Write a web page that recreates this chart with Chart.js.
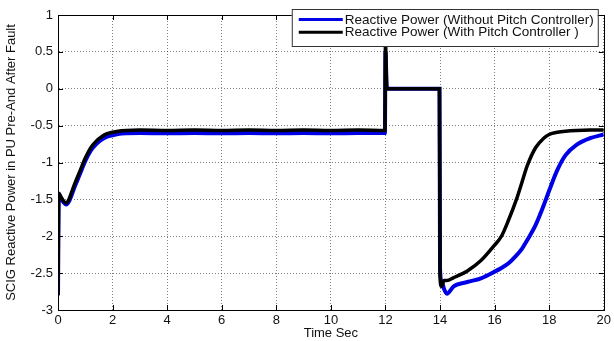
<!DOCTYPE html>
<html>
<head>
<meta charset="utf-8">
<script src="https://cdn.jsdelivr.net/npm/chart.js@4"></script>
<style>
    html, body { margin: 0; padding: 0; background: #fff; }
    canvas { display: block; }
</style>
</head>
<body>
<canvas id="reactiveChart" width="614" height="341"></canvas>
<script>
// Simulation samples (seconds) and reactive power in PU for both runs
const timeSec = [
    0, 0.03, 0.1, 0.2, 0.3, 0.4, 0.5, 0.6, 0.8, 1.0,
    1.2, 1.4, 1.6, 1.8, 2.0, 2.2, 2.5, 3, 4, 5,
    6, 7, 8, 9, 10, 11, 11.98, 12.0, 12.05, 13,
    13.98, 14.0, 14.05, 14.15, 14.25, 14.5, 15, 15.5, 16, 16.25,
    16.5, 16.8, 17.0, 17.2, 17.5, 17.8, 18.0, 18.3, 18.6, 19.0,
    19.5, 20
];
const withoutPitch = [
    -2.8, -1.42, -1.48, -1.54, -1.57, -1.53, -1.44, -1.34, -1.16, -0.98,
    -0.84, -0.75, -0.69, -0.65, -0.63, -0.615, -0.605, -0.6, -0.605, -0.6,
    -0.605, -0.6, -0.605, -0.6, -0.605, -0.6, -0.6, 0.5, 0.0, 0.0,
    0.0, -2.45, -2.6, -2.72, -2.78, -2.68, -2.62, -2.57, -2.48, -2.43,
    -2.37, -2.26, -2.17, -2.05, -1.85, -1.58, -1.38, -1.1, -0.9, -0.76,
    -0.67, -0.62
];
const withPitch = [
    -2.8, -1.42, -1.46, -1.52, -1.55, -1.5, -1.4, -1.3, -1.12, -0.94,
    -0.8, -0.71, -0.65, -0.61, -0.59, -0.575, -0.565, -0.56, -0.565, -0.56,
    -0.565, -0.56, -0.565, -0.56, -0.565, -0.56, -0.565, 0.62, 0.0, 0.0,
    0.0, -2.55, -2.68, -2.6, -2.6, -2.56, -2.47, -2.33, -2.12, -2.0,
    -1.79, -1.5, -1.27, -1.04, -0.8, -0.67, -0.62, -0.59, -0.575, -0.565,
    -0.56, -0.56
];
const seriesLabels = [
    'Reactive Power (Without Pitch Controller)',
    'Reactive Power (With Pitch Controller )'
];
const xTicks = [0, 2, 4, 6, 8, 10, 12, 14, 16, 18, 20];
const yTicks = [-3, -2.5, -2, -1.5, -1, -0.5, 0, 0.5, 1];

const FONT = 'Liberation Sans, Arial, Helvetica, sans-serif';

const toPoints = (values) => timeSec.map((t, i) => ({ x: t, y: values[i] }));

// Box around the axes with inward tick marks, like a MATLAB figure
const axesFrame = {
    id: 'axesFrame',
    afterDatasetsDraw: (chart) => {
        const { ctx, chartArea: a, scales: { x, y } } = chart;
        const len = 5;
        ctx.save();
        ctx.strokeStyle = '#000';
        ctx.lineWidth = 1;
        ctx.beginPath();
        x.ticks.forEach(t => {
            const px = Math.round(x.getPixelForValue(t.value)) + 0.5;
            ctx.moveTo(px, a.bottom); ctx.lineTo(px, a.bottom - len);
            ctx.moveTo(px, a.top); ctx.lineTo(px, a.top + len);
        });
        y.ticks.forEach(t => {
            const py = Math.round(y.getPixelForValue(t.value)) + 0.5;
            ctx.moveTo(a.left, py); ctx.lineTo(a.left + len, py);
            ctx.moveTo(a.right, py); ctx.lineTo(a.right - len, py);
        });
        ctx.stroke();
        ctx.strokeRect(Math.round(a.left) + 0.5, Math.round(a.top) + 0.5,
            Math.round(a.right - a.left), Math.round(a.bottom - a.top));
        ctx.restore();
    }
};

// Legend box sitting over the top-right corner of the plot
const insetLegend = {
    id: 'insetLegend',
    afterDraw: (chart) => {
        const { ctx, chartArea: a } = chart;
        const box = { left: a.right - 312, top: a.top - 6, width: 306, height: 37 };
        ctx.save();
        ctx.fillStyle = '#fff';
        ctx.fillRect(box.left, box.top, box.width, box.height);
        ctx.strokeStyle = '#333';
        ctx.lineWidth = 1;
        ctx.strokeRect(box.left + 0.5, box.top + 0.5, box.width, box.height);
        ctx.font = '13.5px ' + FONT;
        ctx.textBaseline = 'middle';
        ctx.textAlign = 'left';
        chart.data.datasets.forEach((ds, i) => {
            const rowY = box.top + 10.5 + i * 12.7;
            ctx.strokeStyle = ds.borderColor;
            ctx.lineWidth = 3;
            ctx.beginPath();
            ctx.moveTo(box.left + 7, rowY);
            ctx.lineTo(box.left + 51, rowY);
            ctx.stroke();
            ctx.fillStyle = '#111';
            ctx.fillText(ds.label, box.left + 53, rowY + 0.5);
        });
        ctx.restore();
    }
};

new Chart(document.getElementById('reactiveChart'), {
    type: 'line',
    data: {
        datasets: [
            {
                label: seriesLabels[0],
                data: toPoints(withoutPitch),
                borderColor: '#0000e6',
                borderWidth: 4,
                order: 2
            },
            {
                label: seriesLabels[1],
                data: toPoints(withPitch),
                borderColor: '#000000',
                borderWidth: 3.5,
                order: 1
            }
        ]
    },
    options: {
        responsive: false,
        animation: false,
        layout: { padding: { top: 15, right: 6, left: 0, bottom: 0 } },
        elements: {
            point: { radius: 0 },
            line: { cubicInterpolationMode: 'monotone' }
        },
        plugins: {
            legend: { display: false },
            tooltip: { enabled: false }
        },
        scales: {
            x: {
                type: 'linear',
                min: 0,
                max: 20,
                afterBuildTicks: (scale) => { scale.ticks = xTicks.map(v => ({ value: v })); },
                afterFit: (scale) => { scale.height = 31; },
                grid: { color: 'rgba(0,0,0,0.5)', lineWidth: 1, drawTicks: false },
                border: { display: true, color: '#000', dash: [1, 2] },
                ticks: {
                    padding: 3,
                    color: '#111',
                    font: { family: FONT, size: 13 },
                    maxRotation: 0,
                    callback: (v) => String(v)
                },
                title: {
                    display: true,
                    text: 'Time Sec',
                    color: '#111',
                    font: { family: FONT, size: 13 },
                    padding: { top: 0, bottom: 0 }
                }
            },
            y: {
                type: 'linear',
                min: -3,
                max: 1,
                afterBuildTicks: (scale) => { scale.ticks = yTicks.map(v => ({ value: v })); },
                afterFit: (scale) => { scale.width = 58; },
                grid: { color: 'rgba(0,0,0,0.5)', lineWidth: 1, drawTicks: false },
                border: { display: true, color: '#000', dash: [1, 2] },
                ticks: {
                    padding: 5,
                    color: '#111',
                    font: { family: FONT, size: 13 },
                    callback: (v) => String(v)
                },
                title: {
                    display: true,
                    text: 'SCIG Reactive Power in PU Pre-And After Fault',
                    color: '#111',
                    font: { family: FONT, size: 13 },
                    padding: { top: 4, bottom: 0 }
                }
            }
        }
    },
    plugins: [axesFrame, insetLegend]
});
</script>
</body>
</html>
